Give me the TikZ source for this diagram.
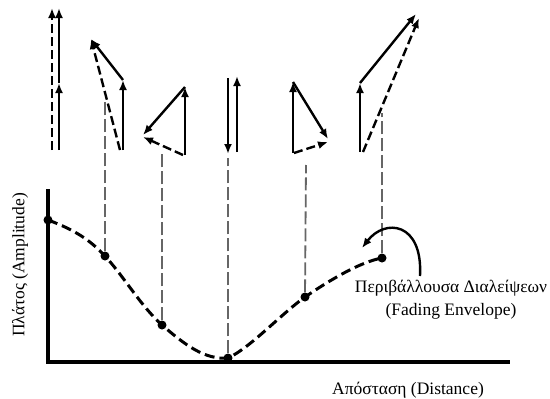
\documentclass[tikz,border=0pt]{standalone}
\usepackage{fontspec}
\setmainfont{Liberation Serif}
\usetikzlibrary{arrows.meta}
\begin{document}
\begin{tikzpicture}[x=1pt,y=-1pt,
 vec/.style={line width=2.4pt,-{Latex[length=10pt,width=8pt]}},
 dvec/.style={vec,dash pattern=on 9pt off 4pt},
 drop/.style={black!60,line width=1.8pt,dash pattern=on 13pt off 4pt},
 axis/.style={line width=4pt},
 env/.style={line width=3pt,dash pattern=on 10pt off 5pt},
 dot/.style={circle,fill,inner sep=0pt,minimum size=9pt},
 lbl/.style={font=\fontsize{17.5}{23}\selectfont}]
\useasboundingbox (0,0) rectangle (550,399);
% axes
\coordinate (ytop) at (48,189);
\coordinate (orig) at (48,362);
\coordinate (xend) at (510,362);
\draw[axis] (ytop) -- (orig) -- (xend);
% envelope
\node[dot] (p1) at (48,220) {};
\node[dot] (p2) at (105,256) {};
\node[dot] (p3) at (162,325) {};
\node[dot] (p4) at (228,358) {};
\node[dot] (p5) at (305,297) {};
\node[dot] (p6) at (382,258) {};
\draw[env] (p1.center) .. controls (75,230) and (90,240) .. (p2.center)
  .. controls (125,278) and (140,305) .. (p3.center)
  .. controls (185,345) and (205,360) .. (p4.center)
  .. controls (250,348) and (280,315) .. (p5.center)
  .. controls (330,280) and (360,262) .. (p6.center);
% drop lines
\coordinate (t2) at (105,100);
\coordinate (t3) at (162,153);
\coordinate (t4) at (228,158);
\coordinate (t5) at (306,165);
\coordinate (t6) at (382,113);
\draw[drop] (p2) -- (t2);
\draw[drop] (p3) -- (t3);
\draw[drop] (p4) -- (t4);
\draw[drop] (p5) -- (t5);
\draw[drop] (p6) -- (t6);
% group 1
\coordinate (a1) at (52,150); \coordinate (a2) at (52,8);
\coordinate (a3) at (59,150); \coordinate (a4) at (59,83); \coordinate (a5) at (59,8);
\draw[dvec] (a1) -- (a2);
\draw[vec] (a3) -- (a4);
\draw[vec] (a4) -- (a5);
% group 2
\coordinate (b1) at (123,150); \coordinate (b2) at (123,80); \coordinate (b3) at (91,39);
\coordinate (b4) at (120,150);
\draw[vec] (b1) -- (b2);
\draw[vec] (b2) -- (b3);
\draw[dvec] (b4) -- (b3);
% group 3
\coordinate (c1) at (185,155); \coordinate (c2) at (185,87); \coordinate (c3) at (143,135);
\coordinate (c4) at (183,155); \coordinate (c5) at (143,137);
\draw[vec] (c1) -- (c2);
\draw[vec] (c2) -- (c3);
\draw[dvec] (c4) -- (c5);
% group 4
\coordinate (d1) at (228,78); \coordinate (d2) at (228,154);
\coordinate (d3) at (237,152); \coordinate (d4) at (237,76);
\draw[vec] (d1) -- (d2);
\draw[vec] (d3) -- (d4);
% group 5
\coordinate (e1) at (293,153); \coordinate (e2) at (293,82); \coordinate (e3) at (328,139);
\coordinate (e4) at (294,153); \coordinate (e5) at (328,142);
\draw[vec] (e1) -- (e2);
\draw[vec] (e2) -- (e3);
\draw[dvec] (e4) -- (e5);
% group 6
\coordinate (f1) at (360,152); \coordinate (f2) at (360,83); \coordinate (f3) at (416,14);
\coordinate (f4) at (363,152); \coordinate (f5) at (419,18);
\draw[vec] (f1) -- (f2);
\draw[vec] (f2) -- (f3);
\draw[dvec] (f4) -- (f5);
% labels
\node[lbl,align=center] (envl) at (451,300) {Περιβάλλουσα Διαλείψεων\\(Fading Envelope)};
\coordinate (ea) at (420,276);
\coordinate (eb) at (362,248);
\draw[vec] (ea) .. controls (423,222) and (385,218) .. (eb);
\node[lbl] (xl) at (408,390) {Απόσταση (Distance)};
\node[lbl,rotate=90] (yl) at (20,265) {Πλάτος (Amplitude)};
\end{tikzpicture}
\end{document}
